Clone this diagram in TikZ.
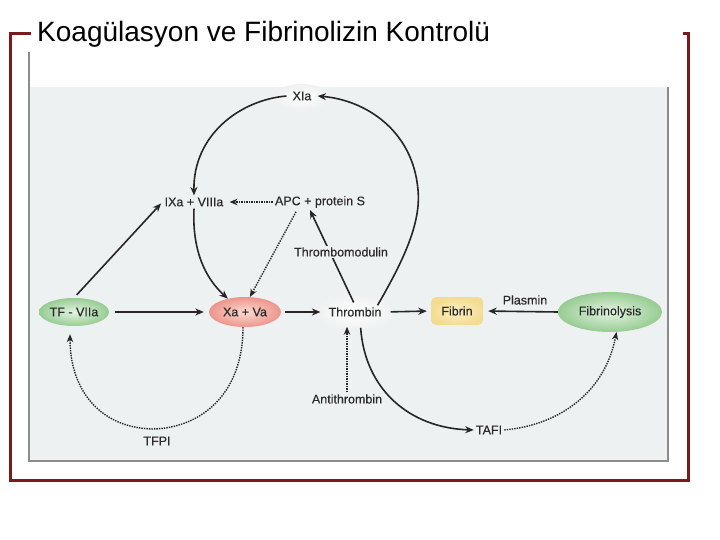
\documentclass[tikz,border=0pt]{standalone}
\usepackage{fontspec}
\setmainfont{Liberation Sans}
\newfontfamily\lblfont[FakeBold=0.35]{Liberation Sans}
\usetikzlibrary{shapes.geometric,arrows.meta}
\definecolor{framec}{HTML}{7A1A1A}
\definecolor{bgc}{HTML}{EEF1F1}
\definecolor{edgec}{HTML}{8C8C8C}
\definecolor{txt}{HTML}{2A2A2A}
\definecolor{grnI}{HTML}{E4F3E2}
\definecolor{grnO}{HTML}{97CC93}
\definecolor{redI}{HTML}{FCDAD2}
\definecolor{redO}{HTML}{EC958B}
\definecolor{yelI}{HTML}{FCF0C4}
\definecolor{yelO}{HTML}{F3DC92}
\begin{document}
\begin{tikzpicture}[x=1pt,y=-1pt,
  lbl/.style={font=\lblfont\fontsize{12.5}{14}\selectfont, text=txt, inner sep=2pt},
  ovl/.style={lbl, ellipse, inner sep=0pt},
  arr/.style={line width=1.6pt, draw=black!85, -{Stealth[length=8.5pt,width=7pt]}},
  dotarr/.style={line width=1.4pt, draw=black!85, dash pattern=on 1.4pt off 1.1pt, -{Stealth[length=8pt,width=6.5pt]}},
  framel/.style={draw=framec, line width=3pt}]
\useasboundingbox (0,0) rectangle (720,540);
\fill[white] (0,0) rectangle (720,540);
% frame
\draw[framel] (31,34) -- (10,34) -- (10,480) -- (688,480) -- (688,34) -- (683,34);
\node[anchor=base west, inner sep=0pt, font=\fontsize{28}{30}\selectfont] (title) at (37,42) {Koagülasyon ve Fibrinolizin Kontrolü};
% picture panel
\fill[bgc] (29,87) rectangle (668,461);
\draw[edgec, line width=2pt] (29,52) -- (29,461) -- (668,461) -- (668,87);
% glows
\shade[inner color=white, outer color=bgc] (355,312) ellipse [x radius=40, y radius=18];
\shade[inner color=white, outer color=bgc] (302,97) ellipse [x radius=28, y radius=13];
% nodes
\node[ovl, shade, inner color=grnI, outer color=grnO, minimum width=70, minimum height=28] (tf) at (74,312) {TF - VIIa};
\node[ovl, shade, inner color=redI, outer color=redO, minimum width=72, minimum height=30] (xa) at (245,312) {Xa + Va};
\node[lbl] (thr) at (355,312) {Thrombin};
\node[lbl, rounded corners=5pt, shade, inner color=yelI, outer color=yelO, minimum width=52, minimum height=28] (fib) at (457,311) {Fibrin};
\node[ovl, shade, inner color=grnI, outer color=grnO, minimum width=104, minimum height=40] (fl) at (610,312) {Fibrinolysis};
\node[lbl, inner xsep=6pt] (xia) at (302,96) {XIa};
\node[lbl] (ix) at (194,202) {IXa + VIIIa};
\node[lbl] (apc) at (320,202) {APC + protein S};
\node[lbl] (plas) at (525,300) {Plasmin};
\node[lbl] (at) at (347,399) {Antithrombin};
\node[lbl] (tfpi) at (157,441) {TFPI};
\node[lbl] (tafi) at (489,430) {TAFI};
\coordinate (tfpibot) at (153,429);
\coordinate (thrright) at (418,190);
% connectors
\draw[arr, shorten <=6pt, shorten >=5pt] (tf.east) -- (xa.west);
\draw[arr, shorten <=4pt, shorten >=6pt] (xa.east) -- (thr.west);
\draw[arr, shorten <=7pt, shorten >=4pt] (thr.east) -- (fib.west);
\draw[arr, shorten <=0pt, shorten >=5pt] (fl.west) -- (fib.east);
\draw[arr, shorten <=4pt, shorten >=2pt] (tf.north) -- (ix.west);
\draw[arr] (xia.west) .. controls (240,100) and (193,135) .. (ix.north);
\draw[arr] (ix.south) .. controls (192,250) and (205,278) .. (xa.142);
\draw[arr] ([xshift=-6pt]thr.north east) .. controls (405,258) and (421,222) .. (thrright) .. controls (413,130) and (365,100) .. (xia.east);
\draw[arr, shorten <=3pt] (thr.north) -- ([xshift=-10pt]apc.south);
\node[lbl, fill=bgc, inner sep=1pt] (tm) at (341,252) {Thrombomodulin};
\draw[dotarr, shorten >=4pt] (apc.west) -- (ix.east);
\draw[dotarr, shorten <=2pt] ([xshift=-23pt]apc.south) -- (xa.72);
\draw[dotarr, shorten >=8pt] (at.north) -- ([xshift=-8pt]thr.south);
\draw[arr, shorten <=9pt] ([xshift=5pt]thr.south) .. controls (365,390) and (410,428) .. (tafi.west);
\draw[dotarr] (tafi.east) .. controls (560,425) and (605,392) .. (fl.-72);
\draw[dotarr, shorten >=8pt] ([xshift=-2pt]xa.south) .. controls (243,395) and (200,428) .. (tfpibot) .. controls (100,428) and (70,390) .. ([xshift=-4pt]tf.south);
\end{tikzpicture}
\end{document}
